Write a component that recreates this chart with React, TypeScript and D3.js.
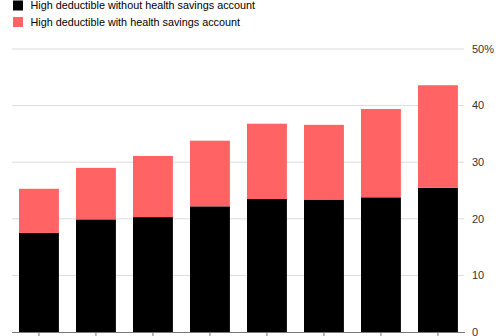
import React from "react";
import * as d3 from "d3";

const categories = ["2011", "2012", "2013", "2014", "2015", "2016", "2017", "2018"];
const withoutHSA = [17.5, 19.9, 20.3, 22.2, 23.5, 23.4, 23.8, 25.5];
const withHSA = [7.8, 9.1, 10.8, 11.6, 13.3, 13.2, 15.6, 18.1];
const yTicks = [0, 10, 20, 30, 40, 50];
const seriesNames = ["High deductible without health savings account", "High deductible with health savings account"];
const seriesColors = ["#000000", "#ff6363"];

export default function App() {
  const W = 504, H = 336;
  const x = d3.scaleBand<string>().domain(categories).range([10.45, 466.45]).paddingInner(0.3).paddingOuter(0.15);
  const y = d3.scaleLinear().domain([0, 50]).range([332, 49]);
  const gridX0 = 12, gridX1 = 464;
  const font = "'Liberation Sans', Arial, sans-serif";
  return (
    <svg width={W} height={H} style={{ position: "absolute", left: 0, top: 0 }} fontFamily={font}>
      {yTicks.filter(t => t > 0).map(t => (
        <line key={t} x1={gridX0} x2={gridX1} y1={y(t)} y2={y(t)} stroke="#dcdcdc" strokeWidth={1} />
      ))}
      {categories.map((c, i) => (
        <g key={c}>
          <rect x={x(c)} width={x.bandwidth()} y={y(withoutHSA[i])} height={y(0) - y(withoutHSA[i])} fill={seriesColors[0]} />
          <rect x={x(c)} width={x.bandwidth()} y={y(withoutHSA[i] + withHSA[i])} height={y(withoutHSA[i]) - y(withoutHSA[i] + withHSA[i])} fill={seriesColors[1]} />
        </g>
      ))}
      <line x1={gridX0} x2={gridX1 + 1} y1={y(0) + 0.5} y2={y(0) + 0.5} stroke="#777" strokeWidth={1} />
      {categories.map(c => (
        <line key={c} x1={x(c)! + x.bandwidth() / 2} x2={x(c)! + x.bandwidth() / 2} y1={y(0)} y2={y(0) + 8} stroke="#777" strokeWidth={1} />
      ))}
      {yTicks.map(t => (
        <text key={t} x={472} y={y(t)} dy="0.35em" fontSize={11} fill="#333">{t === 50 ? "50%" : t}</text>
      ))}
      {seriesNames.map((n, i) => (
        <g key={n}>
          <rect x={13} y={0.5 + i * 16.5} width={10} height={10} fill={seriesColors[i]} />
          <text x={30.5} y={5.5 + i * 16.5} dy="0.35em" fontSize={10.8} fill="#000">{n}</text>
        </g>
      ))}
    </svg>
  );
}
